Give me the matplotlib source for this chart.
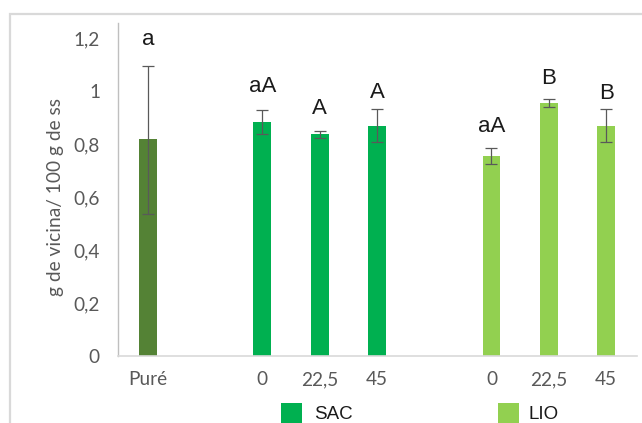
import matplotlib
matplotlib.use("Agg")
import matplotlib.pyplot as plt
import numpy as np
from matplotlib.patches import Rectangle

# ---- data ----
tick_labels = ['Puré', '', '0', '22,5', '45', '', '0', '22,5', '45']
values = [0.818, np.nan, 0.882, 0.837, 0.868, np.nan, 0.755, 0.955, 0.868]
err_low = [0.536, np.nan, 0.839, 0.823, 0.806, np.nan, 0.725, 0.941, 0.806]
err_high = [1.096, np.nan, 0.927, 0.849, 0.932, np.nan, 0.785, 0.972, 0.932]
letters = ['a', '', 'aA', 'A', 'A', '', 'aA', 'B', 'B']
letter_y = [1.196, np.nan, 1.019, 0.936, 0.996, np.nan, 0.868, 1.049, 0.989]
series = ['Puré', None, 'SAC', 'SAC', 'SAC', None, 'LIO', 'LIO', 'LIO']
colors = {'Puré': '#548235', 'SAC': '#00B050', 'LIO': '#92D050'}
yticks = [0, 0.2, 0.4, 0.6, 0.8, 1.0, 1.2]
ytick_labels = ['0', '0,2', '0,4', '0,6', '0,8', '1', '1,2']

W, H = 642, 423
fig = plt.figure(figsize=(W / 100, H / 100), dpi=100)
fig.patch.set_facecolor('white')

# outer frame
fig.add_artist(Rectangle((10 / W, -0.1), 1.2, (H - 14) / H + 0.1,
                         transform=fig.transFigure, fill=False,
                         edgecolor='#D9D9D9', linewidth=1.6))

ax = fig.add_axes([118 / W, (H - 356) / H, (637 - 118) / W, (356 - 23) / H])
x = np.arange(len(tick_labels))
vals = np.array(values, dtype=float)
lo = np.array(err_low, dtype=float)
hi = np.array(err_high, dtype=float)
bar_colors = [colors[s] if s else 'none' for s in series]
ax.bar(x, np.nan_to_num(vals), width=0.31, color=bar_colors, zorder=2)
mask = ~np.isnan(vals)
ax.errorbar(x[mask], vals[mask],
            yerr=[vals[mask] - lo[mask], hi[mask] - vals[mask]],
            fmt='none', ecolor='#595959', elinewidth=0.9, capsize=4.5,
            capthick=0.9, zorder=3)

for xi, t, ly in zip(x, letters, letter_y):
    if t:
        ax.text(xi, ly, t, ha='center', va='center', fontsize=16,
                family=['Liberation Sans', 'DejaVu Sans'], color='#1a1a1a')

ax.set_xlim(-0.52, 8.54)
ax.set_ylim(0, 1.257)
ax.set_yticks(yticks)
ax.set_yticklabels(ytick_labels)
ax.set_xticks(x)
ax.set_xticklabels(tick_labels)
ax.tick_params(axis='both', length=0, colors='#595959', labelsize=13.7)
ax.tick_params(axis='y', pad=13)
ax.tick_params(axis='x', pad=11)
for lab in ax.get_xticklabels() + ax.get_yticklabels():
    lab.set_family(['Lato', 'DejaVu Sans'])
for s in ['top', 'right']:
    ax.spines[s].set_visible(False)
ax.spines['left'].set_color('#BFBFBF')
ax.spines['bottom'].set_color('#D9D9D9')
ax.spines['left'].set_linewidth(1.0)
ax.spines['bottom'].set_linewidth(1.2)

fig.text(56 / W, 1 - 197 / H, 'g de vicina/ 100 g de ss', rotation=90,
         ha='center', va='center', fontsize=13.8, color='#595959',
         family=['Lato', 'DejaVu Sans'])

# legend
for name, x0, tx in [('SAC', 281, 314), ('LIO', 498, 529)]:
    fig.add_artist(Rectangle((x0 / W, 1 - 424 / H), 21 / W, 21 / H,
                             transform=fig.transFigure,
                             facecolor=colors[name], edgecolor='none'))
    fig.text(tx / W, 1 - 414 / H, name, ha='left', va='center',
             fontsize=13.5, color='#1a1a1a',
             family=['Liberation Sans', 'DejaVu Sans'])

fig.savefig('out.png', dpi=100)
